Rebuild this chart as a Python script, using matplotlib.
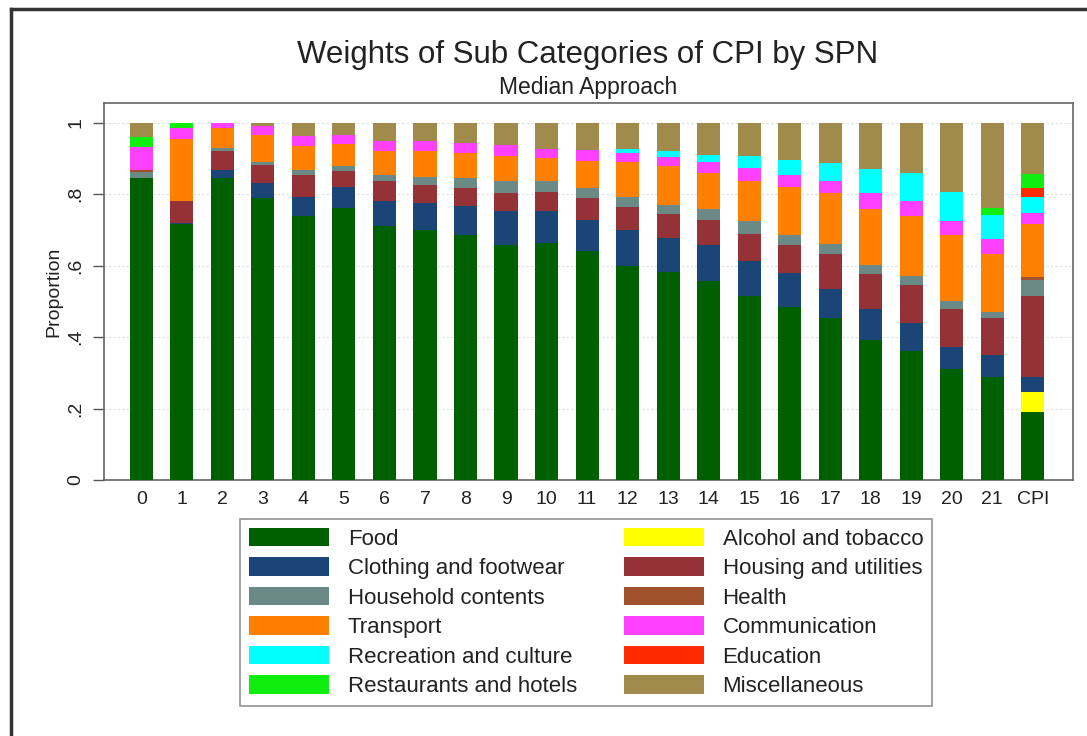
import matplotlib
matplotlib.use("Agg")
import matplotlib.pyplot as plt
from matplotlib.lines import Line2D
import numpy as np

plt.rcParams['font.family'] = ['Liberation Sans', 'DejaVu Sans']

groups = ["0", "1", "2", "3", "4", "5", "6", "7", "8", "9", "10", "11",
          "12", "13", "14", "15", "16", "17", "18", "19", "20", "21", "CPI"]

categories = ["Food", "Alcohol and tobacco", "Clothing and footwear",
              "Housing and utilities", "Household contents", "Health",
              "Transport", "Communication", "Recreation and culture",
              "Education", "Restaurants and hotels", "Miscellaneous"]

food = [.845, .716, .845, .789, .739, .761, .711, .699, .686, .658, .663, .640,
        .599, .581, .556, .515, .485, .453, .392, .362, .310, .288, .189]
alcohol = [0, 0, 0, 0, 0, 0, 0, 0, 0, 0, 0, 0,
           0, 0, 0, 0, 0, 0, 0, 0, 0, 0, .058]
clothing = [0, .004, .023, .042, .053, .059, .069, .076, .080, .094, .089, .088,
            .101, .096, .102, .099, .094, .081, .086, .077, .062, .062, .042]
housing = [0, .060, .052, .051, .062, .046, .056, .051, .051, .051, .053, .061,
           .064, .068, .070, .075, .079, .099, .099, .107, .106, .103, .226]
household = [.017, 0, .009, .008, .014, .012, .018, .021, .028, .033, .031, .028,
             .028, .025, .030, .035, .028, .028, .025, .025, .022, .018, .045]
health = [.006, 0, 0, 0, 0, 0, 0, 0, 0, 0, 0, 0,
          0, 0, 0, 0, 0, 0, 0, 0, 0, 0, .009]
transport = [0, .174, .056, .076, .066, .063, .066, .073, .070, .070, .065, .077,
             .097, .108, .101, .112, .134, .142, .156, .168, .186, .162, .148]
communication = [.065, .031, .015, .024, .030, .025, .028, .028, .028, .032, .025, .030,
                 .026, .026, .030, .037, .034, .033, .045, .043, .038, .041, .030]
recreation = [0, 0, 0, 0, 0, 0, 0, 0, 0, 0, 0, 0,
              .011, .018, .021, .033, .042, .051, .067, .077, .081, .068, .045]
education = [0, 0, 0, 0, 0, 0, 0, 0, 0, 0, 0, 0,
             0, 0, 0, 0, 0, 0, 0, 0, 0, 0, .025]
restaurants = [.027, .015, 0, 0, 0, 0, 0, 0, 0, 0, 0, 0,
               0, 0, 0, 0, 0, 0, 0, 0, 0, .019, .040]
misc = [.040, 0, 0, .010, .036, .034, .052, .052, .057, .062, .074, .076,
        .074, .078, .090, .094, .104, .113, .130, .141, .195, .239, .143]

series = [food, alcohol, clothing, housing, household, health, transport,
          communication, recreation, education, restaurants, misc]

colors = ["#006000", "#ffff00", "#1b4577", "#943237", "#6b8a86", "#a0522d",
          "#ff8000", "#ff40ff", "#00ffff", "#ff2a00", "#10ee10", "#a08a4c"]

W, H = 1087, 736
fig = plt.figure(figsize=(W / 100, H / 100), dpi=100)
fig.patch.set_facecolor("white")

ax = fig.add_axes([104 / W, (H - 480) / H, (1073 - 104) / W, (480 - 103) / H])

x = np.arange(len(groups))
bottom = np.zeros(len(groups))
handles = []
for vals, name, col in zip(series, categories, colors):
    v = np.array(vals)
    b = ax.bar(x, v, bottom=bottom, width=0.57, color=col, label=name,
               linewidth=0, zorder=3)
    handles.append(b)
    bottom += v

ax.set_xlim(-0.92, 22.99)
ax.set_ylim(0, 1.055)
ax.set_xticks(x)
ax.set_xticklabels(groups, fontsize=14, color="#222222")
ax.tick_params(axis="x", length=0, pad=8)
ax.set_yticks([0, .2, .4, .6, .8, 1])
ax.set_yticklabels(["0", ".2", ".4", ".6", ".8", "1"], rotation=90,
                   va="center", fontsize=14, color="#222222")
ax.tick_params(axis="y", length=8, width=1, color="#555555", pad=6)
ax.set_ylabel("Proportion", fontsize=14, color="#222222", labelpad=4)
ax.grid(axis="y", color="#d8e0e8", linewidth=0.8, linestyle=(0, (2, 2)), zorder=0)
for s in ax.spines.values():
    s.set_color("#666666")
    s.set_linewidth(1.2)

fig.text(588 / W, 1 - 55 / H, "Weights of Sub Categories of CPI by SPN",
         ha="center", va="center", fontsize=22.5, color="#222222")
fig.text(588 / W, 1 - 87.5 / H, "Median Approach",
         ha="center", va="center", fontsize=16.5, color="#222222")

order = [0, 2, 4, 6, 8, 10, 1, 3, 5, 7, 9, 11]
leg = fig.legend([handles[i] for i in order], [categories[i] for i in order],
                 ncol=2, loc="upper left",
                 bbox_to_anchor=(240 / W, 1 - 519 / H), borderaxespad=0,
                 fontsize=16, handlelength=3.6, handleheight=0.9,
                 labelspacing=0.34, columnspacing=2.1, handletextpad=0.85,
                 borderpad=0.4, fancybox=False, frameon=True)
leg.get_frame().set_edgecolor("#777777")
leg.get_frame().set_linewidth(1.2)
for t in leg.get_texts():
    t.set_color("#222222")

# outer frame lines (left and top)
fig.add_artist(Line2D([11 / W, 11 / W], [0, 1 - 9 / H], transform=fig.transFigure,
                      color="#333333", linewidth=2.5))
fig.add_artist(Line2D([11 / W, 1], [1 - 9 / H, 1 - 9 / H], transform=fig.transFigure,
                      color="#333333", linewidth=2.5))

fig.savefig("out.png", dpi=100)
